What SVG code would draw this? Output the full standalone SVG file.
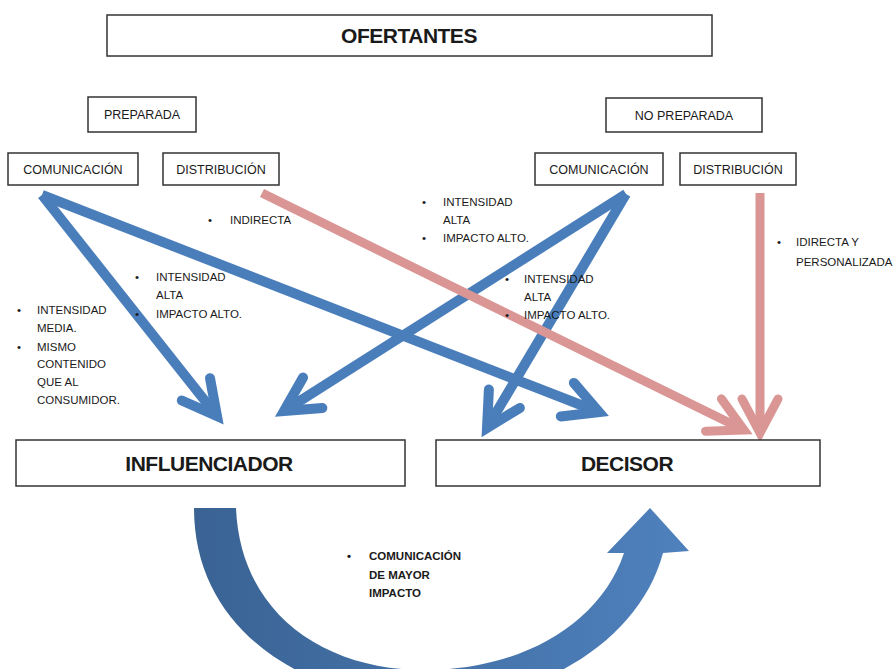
<svg xmlns="http://www.w3.org/2000/svg" width="893" height="669" viewBox="0 0 893 669">
<style>
.box{fill:#fff;stroke:#333;stroke-width:1.5}
.t{font-family:"Liberation Sans","DejaVu Sans",sans-serif;fill:#1a1a1a}
.bx{font-size:12.5px}
.big{font-size:21px;font-weight:bold;letter-spacing:-0.5px}
.lb{font-size:11.5px}
.blue{fill:none;stroke:#4a7ebb;stroke-width:10}
.pink{fill:none;stroke:#d99694;stroke-width:9}
</style>
<defs>
<marker id="hb" markerUnits="userSpaceOnUse" markerWidth="80" markerHeight="80" refX="0" refY="0" orient="auto" overflow="visible" viewBox="-40 -40 80 80">
<path d="M-34,-18 L0,0 L-34,18" fill="none" stroke="#4a7ebb" stroke-width="10" stroke-linecap="round"/>
</marker>
<marker id="hp" markerUnits="userSpaceOnUse" markerWidth="80" markerHeight="80" refX="0" refY="0" orient="auto" overflow="visible" viewBox="-40 -40 80 80">
<path d="M-34,-18 L0,0 L-34,18" fill="none" stroke="#d99694" stroke-width="9" stroke-linecap="round"/>
</marker>
<linearGradient id="gc" x1="0" y1="0" x2="1" y2="0">
<stop offset="0" stop-color="#3a6394"/>
<stop offset="1" stop-color="#4f81bd"/>
</linearGradient>
</defs>

<g id="connectors">
<path class="blue" d="M42,195 L217,416" marker-end="url(#hb)"/>
<path class="blue" d="M42,195 L599,412" marker-end="url(#hb)"/>
<path class="blue" d="M626,194 L284,411" marker-end="url(#hb)"/>
<path class="blue" d="M626,194 L487,428" marker-end="url(#hb)"/>
<path class="pink" d="M262,193 L744,430" marker-end="url(#hp)"/>
<path class="pink" d="M760,193 L760,433" marker-end="url(#hp)"/>
<path id="curved" fill="url(#gc)" d="M194,508 C194,640 320,702 430,702 C540,702 640,640 663,553 L689,551 L650,508 L607,553 L624,553 C600,625 520,670 425,670 C320,670 240,610 236,508 Z"/>
</g>

<g id="ofertantes">
<rect class="box" x="107" y="15" width="605" height="41"/>
<text class="t big" x="409" y="43" text-anchor="middle">OFERTANTES</text>
</g>
<g id="preparada">
<rect class="box" x="88" y="97" width="108" height="35"/>
<text class="t bx" x="142" y="119" text-anchor="middle">PREPARADA</text>
</g>
<g id="no-preparada">
<rect class="box" x="606" y="98" width="156" height="34"/>
<text class="t bx" x="684" y="120" text-anchor="middle">NO PREPARADA</text>
</g>
<g id="comunicacion-1">
<rect class="box" x="8" y="153" width="130" height="32"/>
<text class="t bx" x="73" y="174" text-anchor="middle">COMUNICACIÓN</text>
</g>
<g id="distribucion-1">
<rect class="box" x="163" y="153" width="116" height="32"/>
<text class="t bx" x="221" y="174" text-anchor="middle">DISTRIBUCIÓN</text>
</g>
<g id="comunicacion-2">
<rect class="box" x="535" y="153" width="128" height="32"/>
<text class="t bx" x="599" y="174" text-anchor="middle">COMUNICACIÓN</text>
</g>
<g id="distribucion-2">
<rect class="box" x="680" y="153" width="116" height="32"/>
<text class="t bx" x="738" y="174" text-anchor="middle">DISTRIBUCIÓN</text>
</g>
<g id="influenciador">
<rect class="box" x="16" y="440" width="389" height="46"/>
<text class="t big" x="209" y="471" text-anchor="middle">INFLUENCIADOR</text>
</g>
<g id="decisor">
<rect class="box" x="436" y="440" width="384" height="46"/>
<text class="t big" x="627" y="471" text-anchor="middle">DECISOR</text>
</g>

<g id="labels" class="t lb">
<text x="208" y="224">•</text><text x="230" y="224">INDIRECTA</text>
<text x="17" y="314">•</text><text x="37" y="314">INTENSIDAD</text>
<text x="37" y="332">MEDIA.</text>
<text x="17" y="351">•</text><text x="37" y="351">MISMO</text>
<text x="37" y="368">CONTENIDO</text>
<text x="37" y="386">QUE AL</text>
<text x="37" y="404">CONSUMIDOR.</text>
<text x="135" y="281">•</text><text x="156" y="281">INTENSIDAD</text>
<text x="156" y="299">ALTA</text>
<text x="135" y="318">•</text><text x="156" y="318">IMPACTO ALTO.</text>
<text x="422" y="206">•</text><text x="443" y="206">INTENSIDAD</text>
<text x="443" y="224">ALTA</text>
<text x="422" y="242">•</text><text x="443" y="242">IMPACTO ALTO.</text>
<text x="505" y="283">•</text><text x="524" y="283">INTENSIDAD</text>
<text x="524" y="301">ALTA</text>
<text x="505" y="319">•</text><text x="524" y="319">IMPACTO ALTO.</text>
<text x="777" y="246">•</text><text x="796" y="246">IDIRECTA Y</text>
<text x="796" y="266">PERSONALIZADA</text>
<g font-weight="bold">
<text x="347" y="560">•</text><text x="369" y="560">COMUNICACIÓN</text>
<text x="369" y="579">DE MAYOR</text>
<text x="369" y="597">IMPACTO</text>
</g>
</g>
</svg>
